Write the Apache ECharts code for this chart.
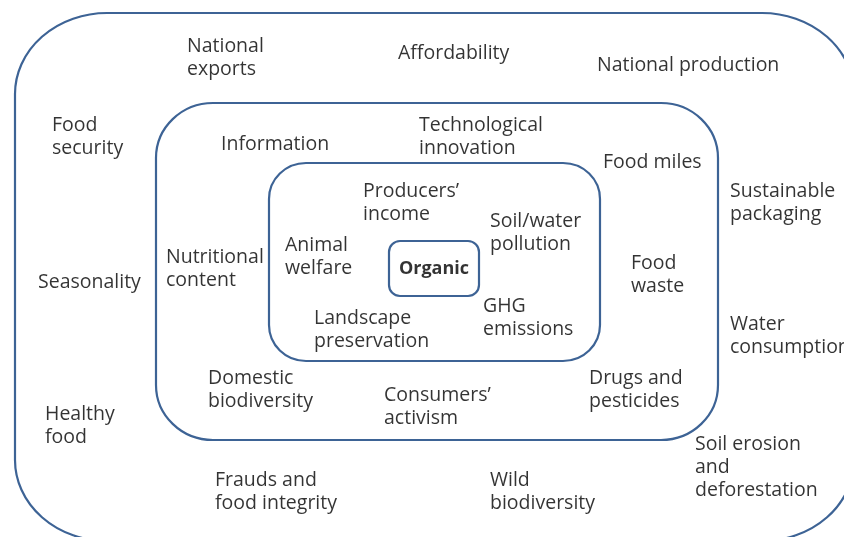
<!DOCTYPE html>
<html>
<head>
    <meta charset="utf-8">
    <title>Organic food attributes</title>
    <script src="https://cdn.jsdelivr.net/npm/echarts@6/dist/echarts.min.js"></script>
</head>
<body style="margin:0">
    <div id="main" style="width: 844px;height:537px;"></div>
    <script type="text/javascript">
// rings: [left, top, right, bottom, corner rx, corner ry] in diagram units (y grows downward)
var ringBoxes = [
    [15, 13, 854, 541, 92, 81],
    [156, 103, 718, 440, 57, 55],
    [269, 163, 600, 361, 37, 36],
    [389, 241, 479, 296, 11, 11]
];

// labels: text, x of left edge, y of block centre
var labelNames = [
    'National\nexports', 'Affordability', 'National production',
    'Food\nsecurity', 'Information', 'Technological\ninnovation', 'Food miles',
    'Sustainable\npackaging', 'Producers\u2019\nincome', 'Soil/water\npollution',
    'Animal\nwelfare', 'Nutritional\ncontent', 'Food\nwaste', 'Seasonality',
    'GHG\nemissions', 'Landscape\npreservation', 'Water\nconsumption',
    'Domestic\nbiodiversity', 'Drugs and\npesticides', 'Consumers\u2019\nactivism',
    'Healthy\nfood', 'Soil erosion\nand\ndeforestation', 'Frauds and\nfood integrity',
    'Wild\nbiodiversity'
];
var labelX = [187, 398, 597, 52, 221, 419, 603, 730, 363, 490, 285, 166, 631, 38,
    483, 314, 730, 208, 589, 384, 45, 695, 215, 490];
var labelY = [58, 53, 65, 137, 144, 137, 162, 203, 203, 233, 257, 269, 275, 282,
    318, 330, 336, 390, 390, 407, 426, 467, 492, 492];

var centreLabel = ['Organic'];
var centreXY = [434, 269];

var lineColor = '#3d6395';

var chart = echarts.init(document.getElementById('main'));

var textData = [];
for (var i = 0; i < labelNames.length; i++) {
    textData.push({ name: labelNames[i], value: [labelX[i], labelY[i]] });
}

// rounded box outline as svg path, corners may be elliptical
function boxPath(l, t, r, b, rx, ry) {
    return 'M' + (l + rx) + ',' + t +
        ' L' + (r - rx) + ',' + t +
        ' A' + rx + ',' + ry + ' 0 0 1 ' + r + ',' + (t + ry) +
        ' L' + r + ',' + (b - ry) +
        ' A' + rx + ',' + ry + ' 0 0 1 ' + (r - rx) + ',' + b +
        ' L' + (l + rx) + ',' + b +
        ' A' + rx + ',' + ry + ' 0 0 1 ' + l + ',' + (b - ry) +
        ' L' + l + ',' + (t + ry) +
        ' A' + rx + ',' + ry + ' 0 0 1 ' + (l + rx) + ',' + t + ' Z';
}

chart.setOption({
    backgroundColor: '#fff',
    animation: false,
    grid: { left: 0, right: 0, top: 0, bottom: 0 },
    xAxis: { type: 'value', min: 0, max: 844, show: false },
    yAxis: { type: 'value', min: 0, max: 537, inverse: true, show: false },
    series: [
        {
            type: 'custom',
            clip: false,
            data: ringBoxes,
            renderItem: function (params, api) {
                var p1 = api.coord([api.value(0), api.value(1)]);
                var p2 = api.coord([api.value(2), api.value(3)]);
                var sx = (p2[0] - p1[0]) / (api.value(2) - api.value(0));
                var sy = (p2[1] - p1[1]) / (api.value(3) - api.value(1));
                return {
                    type: 'path',
                    shape: {
                        pathData: boxPath(p1[0], p1[1], p2[0], p2[1],
                            api.value(4) * sx, api.value(5) * sy)
                    },
                    style: { fill: 'none', stroke: lineColor, lineWidth: 2.2 }
                };
            }
        },
        {
            type: 'scatter',
            symbolSize: 0,
            data: textData,
            label: {
                show: true,
                position: 'inside',
                align: 'left',
                verticalAlign: 'middle',
                formatter: '{b}',
                color: '#000',
                fontFamily: 'Open Sans',
                fontSize: 19.5,
                lineHeight: 23
            }
        },
        {
            type: 'scatter',
            symbolSize: 0,
            data: [{ name: centreLabel[0], value: centreXY }],
            label: {
                show: true,
                position: 'inside',
                align: 'center',
                verticalAlign: 'middle',
                formatter: '{b}',
                color: '#000',
                fontFamily: 'Open Sans',
                fontWeight: 'bold',
                fontSize: 18
            }
        }
    ]
});
    </script>
</body>
</html>
